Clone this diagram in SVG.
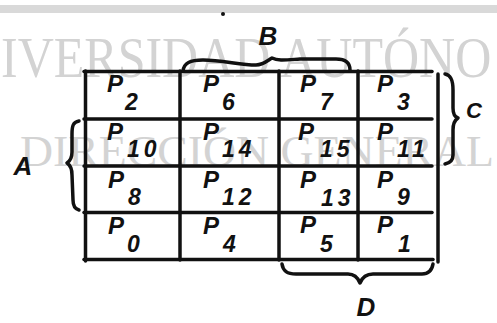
<svg xmlns="http://www.w3.org/2000/svg" width="497" height="323" viewBox="0 0 497 323">
  <style>
    .wm { font-family: "Liberation Serif", "Times New Roman", serif; fill: #d3d3d3; }
    .ln { stroke: #111; stroke-width: 3.5; fill: none; stroke-linecap: round; }
    .br { stroke: #111; stroke-width: 3.5; fill: none; stroke-linecap: round; stroke-linejoin: round; }
    .p { font-family: "Liberation Sans", Arial, sans-serif; font-weight: bold; font-style: italic; font-size: 24px; fill: #111; }
    .n { font-family: "Liberation Sans", Arial, sans-serif; font-weight: bold; font-style: italic; font-size: 23px; fill: #111; letter-spacing: 4px; }
    .lbl { font-family: "Liberation Sans", Arial, sans-serif; font-weight: bold; font-style: italic; fill: #111; text-anchor: middle; }
  </style>
  <rect width="497" height="323" fill="#ffffff"/>
  <g id="watermark">
    <rect x="0" y="5" width="497" height="8" fill="#d9d9d9"/>
    <text class="wm" x="0" y="0" font-size="56" transform="translate(1,77) scale(0.893,1)">IVERSIDAD AUTÓNO</text>
    <text class="wm" x="20" y="166" font-size="44" textLength="474" lengthAdjust="spacingAndGlyphs">DIRECCIÓN GENERAL</text>
  </g>
  <circle cx="223" cy="14" r="2" fill="#111"/>
  <g id="grid">
    <line class="ln" x1="84" y1="71.5" x2="432" y2="71.5"/>
    <line class="ln" x1="84" y1="119" x2="432" y2="119"/>
    <line class="ln" x1="84" y1="166" x2="432" y2="166"/>
    <line class="ln" x1="84" y1="212.5" x2="432" y2="212.5"/>
    <line class="ln" x1="84" y1="259.5" x2="433" y2="259.5"/>
    <line class="ln" x1="85.5" y1="71" x2="85.5" y2="261"/>
    <line class="ln" x1="180" y1="71" x2="180" y2="260"/>
    <line class="ln" x1="279" y1="71" x2="279" y2="260"/>
    <line class="ln" x1="358" y1="71" x2="358" y2="260"/>
    <line class="ln" x1="438" y1="74" x2="438" y2="262"/>
  </g>
  <g id="cells">
    <g id="p2"><text class="p" x="107" y="92">P</text><text class="n" x="125" y="110">2</text></g>
    <g id="p6"><text class="p" x="203" y="92">P</text><text class="n" x="222" y="110">6</text></g>
    <g id="p7"><text class="p" x="300" y="92">P</text><text class="n" x="320" y="110">7</text></g>
    <g id="p3"><text class="p" x="377" y="92">P</text><text class="n" x="397" y="110">3</text></g>
    <g id="p10"><text class="p" x="107" y="140">P</text><text class="n" x="127" y="157">10</text></g>
    <g id="p14"><text class="p" x="203" y="140">P</text><text class="n" x="222" y="157">14</text></g>
    <g id="p15"><text class="p" x="298" y="140">P</text><text class="n" x="320" y="157">15</text></g>
    <g id="p11"><text class="p" x="377" y="140">P</text><text class="n" x="397" y="157">11</text></g>
    <g id="p8"><text class="p" x="108" y="188">P</text><text class="n" x="128" y="205">8</text></g>
    <g id="p12"><text class="p" x="203" y="188">P</text><text class="n" x="222" y="205">12</text></g>
    <g id="p13"><text class="p" x="300" y="188">P</text><text class="n" x="321" y="206">13</text></g>
    <g id="p9"><text class="p" x="377" y="188">P</text><text class="n" x="397" y="205">9</text></g>
    <g id="p0"><text class="p" x="108" y="234">P</text><text class="n" x="127" y="252">0</text></g>
    <g id="p4"><text class="p" x="203" y="234">P</text><text class="n" x="223" y="252">4</text></g>
    <g id="p5"><text class="p" x="300" y="233">P</text><text class="n" x="320" y="252">5</text></g>
    <g id="p1"><text class="p" x="377" y="233">P</text><text class="n" x="398" y="252">1</text></g>
  </g>
  <g id="connectors">
    <path class="br" d="M183,71 C184,63 190,60 203,60 C222,60 240,65 256,65 C263,65 267,61 272,58 C278,61 285,60 300,59 L336,59 C346,59 350,63 350,70"/>
    <path class="br" d="M445,74 C451,75 453,80 453,90 L453,108 C453,114 455,117 458,118 C455,120 453,123 453,130 L453,155 C453,160 450,163 445,164"/>
    <path class="br" d="M79,121 C73,122 72,126 72,134 L72,152 C72,158 70,161 67,163 C70,165 72,168 72,175 L73,200 C73,206 75,209 79,210"/>
    <path class="br" d="M282,264 C283,271 287,274 296,274 L348,274 C354,274 358,278 360,283 C362,278 366,274 373,274 L422,274 C429,274 432,270 433,264"/>
  </g>
  <g id="labels">
    <text id="lblB" class="lbl" x="268" y="45" font-size="26">B</text>
    <text id="lblC" class="lbl" x="474" y="118" font-size="22">C</text>
    <text id="lblA" class="lbl" x="23" y="175" font-size="26">A</text>
    <text id="lblD" class="lbl" x="366" y="316" font-size="26">D</text>
  </g>
</svg>
